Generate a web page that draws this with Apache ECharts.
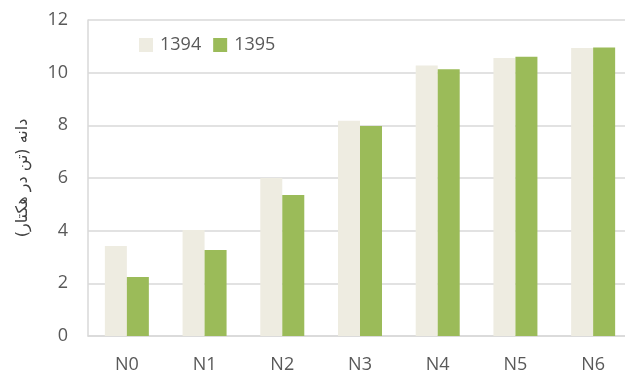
<!DOCTYPE html>
<html>
<head>
<meta charset="utf-8">
<script src="https://cdn.jsdelivr.net/npm/echarts@6/dist/echarts.min.js"></script>
<style>
    html, body { margin: 0; padding: 0; background: #fff; overflow: hidden; }
    #chart { width: 640px; height: 376px; }
</style>
</head>
<body>
<div id="chart"></div>
<script>
const categories = ['N0', 'N1', 'N2', 'N3', 'N4', 'N5', 'N6']
const yield1394 = [3.42, 4.03, 6.0, 8.17, 10.27, 10.56, 10.94]
const yield1395 = [2.24, 3.27, 5.35, 7.97, 10.13, 10.6, 10.96]
const yTicks = [0, 2, 4, 6, 8, 10, 12]

const font = '"Open Sans", Lato, sans-serif'

// the plot runs a little past the right edge of the picture, so the canvas is wider than the window
let chart = echarts.init(document.getElementById('chart'))
let options = {
    animation: false,
    textStyle: { fontFamily: font },
    legend: {
        left: 134,
        top: 31,
        itemWidth: 14,
        itemHeight: 14,
        itemGap: 12,
        icon: 'rect',
        textStyle: { fontSize: 18, color: '#595959', fontFamily: font, padding: [0, 0, 0, 2] },
        data: ['1394', '1395']
    },
    grid: { left: 88, top: 20, width: 544, height: 316 },
    xAxis: {
        type: 'category',
        data: categories,
        axisLine: { lineStyle: { color: '#D9D9D9', width: 1.5 } },
        axisTick: { show: false },
        axisLabel: { fontSize: 18, color: '#595959', margin: 20 }
    },
    yAxis: {
        type: 'value',
        min: yTicks[0],
        max: yTicks[yTicks.length - 1],
        interval: 2,
        name: 'دانه (تن در هکتار)',
        nameLocation: 'middle',
        nameRotate: 90,
        nameGap: 57,
        nameTextStyle: { fontSize: 16, fontWeight: 'normal', color: '#404040', fontFamily: '"DejaVu Sans", sans-serif' },
        axisLine: { show: true, lineStyle: { color: '#D9D9D9', width: 1.5 } },
        axisTick: { show: false },
        axisLabel: { fontSize: 18, color: '#595959', margin: 20 },
        splitLine: { lineStyle: { color: '#D9D9D9', width: 1.5 } }
    },
    series: [
        {
            name: '1394',
            type: 'bar',
            data: yield1394,
            barWidth: 22,
            barGap: '0%',
            itemStyle: { color: '#EEECE1' }
        },
        {
            name: '1395',
            type: 'bar',
            data: yield1395,
            barWidth: 22,
            itemStyle: { color: '#9BBB59' }
        }
    ]
}
chart.setOption(options)
</script>
</body>
</html>
